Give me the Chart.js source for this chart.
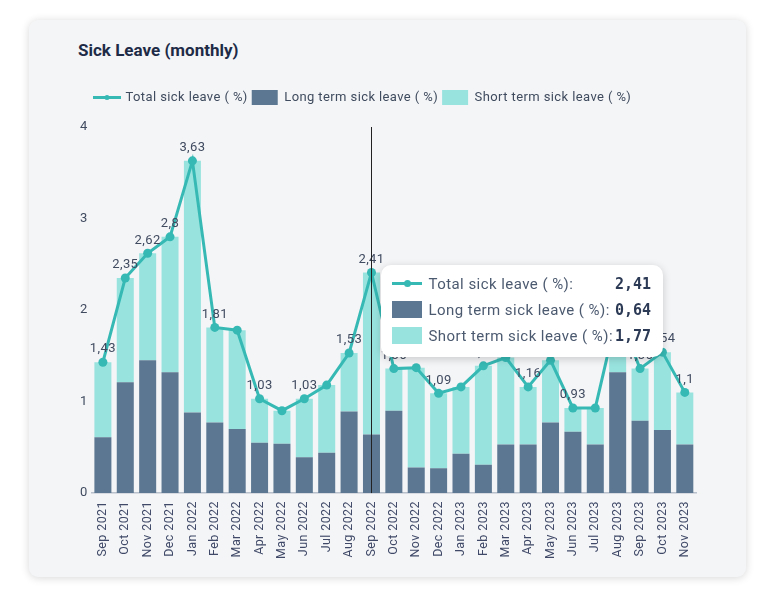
<!DOCTYPE html>
<html>
<head>
<meta charset="utf-8">
<script src="https://cdn.jsdelivr.net/npm/chart.js@4.4.1/dist/chart.umd.min.js"></script>
<style>
  html, body { margin: 0; padding: 0; background: #fff; }
  body { width: 775px; height: 614px; position: relative; overflow: hidden; font-family: Roboto, sans-serif; }
  .card { position: absolute; left: 29px; top: 20px; width: 717px; height: 557px; background: #f4f5f7;
          border-radius: 9px; box-shadow: 0 1px 9px rgba(0,0,0,0.16); }
  .title { position: absolute; left: 49px; top: 19px; font: bold 17px Roboto; line-height: 22px; color: #1e2b47; }
  .wrap { position: absolute; left: 31px; top: 60px; width: 650px; height: 493px; }
  #tip { position: absolute; background: #fff; border-radius: 10px; box-shadow: 0 2px 9px rgba(0,0,0,0.18);
         padding: 6px 12px 8px 11px; display: none; white-space: nowrap; }
  #tip .row { display: flex; align-items: center; height: 26px; }
  #tip .sw { width: 30px; height: 17px; margin-right: 6px; position: relative; }
  #tip .lbl { font: 15px Roboto; letter-spacing: 0.45px; color: #4c5a70; flex: 1; padding-right: 2px; }
  #tip .val { font: bold 15px "DejaVu Sans Mono", monospace; color: #2c3a55; text-align: right; }
</style>
</head>
<body>
<div class="card">
  <div class="title">Sick Leave (monthly)</div>
  <div class="wrap">
    <canvas id="chart"></canvas>
    <div id="tip"></div>
  </div>
</div>
<script>
const months = ['Sep 2021', 'Oct 2021', 'Nov 2021', 'Dec 2021', 'Jan 2022', 'Feb 2022', 'Mar 2022', 'Apr 2022',
  'May 2022', 'Jun 2022', 'Jul 2022', 'Aug 2022', 'Sep 2022', 'Oct 2022', 'Nov 2022', 'Dec 2022', 'Jan 2023',
  'Feb 2023', 'Mar 2023', 'Apr 2023', 'May 2023', 'Jun 2023', 'Jul 2023', 'Aug 2023', 'Sep 2023', 'Oct 2023', 'Nov 2023'];
const totalSick = [1.43, 2.35, 2.62, 2.8, 3.63, 1.81, 1.78, 1.03, 0.9, 1.03, 1.18, 1.53, 2.41, 1.36, 1.37, 1.09, 1.16,
  1.39, 1.48, 1.16, 1.45, 0.93, 0.93, 1.98, 1.36, 1.54, 1.1];
const longTerm = [0.61, 1.21, 1.45, 1.32, 0.88, 0.77, 0.70, 0.55, 0.54, 0.39, 0.44, 0.89, 0.64, 0.90, 0.28, 0.27, 0.43,
  0.31, 0.53, 0.53, 0.77, 0.67, 0.53, 1.32, 0.79, 0.69, 0.53];
const shortTerm = [0.82, 1.14, 1.17, 1.48, 2.75, 1.04, 1.08, 0.48, 0.36, 0.64, 0.74, 0.64, 1.77, 0.46, 1.09, 0.82, 0.73,
  1.08, 0.95, 0.63, 0.68, 0.26, 0.40, 0.66, 0.57, 0.85, 0.57];
// which points get a value label (the report hides the crowded ones)
const showLabel = [1, 1, 1, 1, 1, 1, 0, 1, 0, 1, 0, 1, 1, 1, 0, 1, 0, 1, 0, 1, 0, 1, 0, 1, 1, 1, 1];
const hoverIndex = 12;

const teal = '#36b9b4';
const slate = '#5b7791';
const mint = '#99e3de';
const spacing = '0.4px';

const fmt = v => String(v).replace('.', ',');

// small labels above the line points
const valueLabels = {
  id: 'valueLabels',
  afterDatasetsDraw(chart) {
    const ctx = chart.ctx;
    const meta = chart.getDatasetMeta(0);
    ctx.save();
    ctx.font = '13px Roboto';
    ctx.letterSpacing = spacing;
    ctx.fillStyle = '#404b60';
    ctx.textAlign = 'center';
    ctx.textBaseline = 'middle';
    meta.data.forEach((pt, i) => {
      if (showLabel[i]) ctx.fillText(fmt(totalSick[i]), pt.x, pt.y - 13);
    });
    ctx.restore();
  }
};

// letter spacing, legend offsets, legend marker for the line series, hover line
const extras = {
  id: 'extras',
  beforeInit(chart) {
    const fit = chart.legend.fit;
    chart.legend.fit = function () {
      fit.bind(this)();
      this.height += 12;
    };
  },
  beforeUpdate(chart) { chart.ctx.letterSpacing = spacing; },
  beforeDraw(chart) { chart.ctx.letterSpacing = spacing; },
  afterLayout(chart) { chart.legend.left += 13; },
  afterDraw(chart) {
    const ctx = chart.ctx;
    const hb = chart.legend.legendHitBoxes[0];
    if (hb) {
      const cy = hb.top + hb.height / 2;
      ctx.save();
      ctx.strokeStyle = teal;
      ctx.lineWidth = 3;
      ctx.beginPath();
      ctx.moveTo(hb.left, cy);
      ctx.lineTo(hb.left + 28, cy);
      ctx.stroke();
      ctx.fillStyle = teal;
      ctx.beginPath();
      ctx.arc(hb.left + 14, cy, 2.5, 0, Math.PI * 2);
      ctx.fill();
      ctx.restore();
    }
    const x = chart.getDatasetMeta(0).data[hoverIndex].x;
    const area = chart.chartArea;
    ctx.save();
    ctx.strokeStyle = '#222';
    ctx.lineWidth = 1;
    ctx.beginPath();
    ctx.moveTo(Math.round(x) + 0.5, area.top);
    ctx.lineTo(Math.round(x) + 0.5, area.bottom);
    ctx.stroke();
    ctx.restore();
  }
};

function externalTip(context) {
  const tip = document.getElementById('tip');
  const tt = context.tooltip;
  if (!tt || !tt.dataPoints || !tt.dataPoints.length) { tip.style.display = 'none'; return; }
  let html = '';
  tt.dataPoints.forEach(dp => {
    let sw;
    if (dp.datasetIndex === 0) {
      sw = '<div class="sw"><div style="position:absolute;left:0;right:0;top:7px;height:3px;background:' + teal + '"></div>' +
           '<div style="position:absolute;left:12px;top:5px;width:7px;height:7px;border-radius:50%;background:' + teal + '"></div></div>';
    } else {
      sw = '<div class="sw" style="background:' + dp.dataset.backgroundColor + '"></div>';
    }
    html += '<div class="row">' + sw + '<div class="lbl">' + dp.dataset.label + ':</div><div class="val">' +
      fmt(dp.raw.toFixed(2)) + '</div></div>';
  });
  tip.innerHTML = html;
  const pt = context.chart.getDatasetMeta(0).data[hoverIndex];
  tip.style.left = (pt.x + 10) + 'px';
  tip.style.top = (pt.y - 8) + 'px';
  tip.style.display = 'block';
}

const chart = new Chart(document.getElementById('chart'), {
  data: {
    labels: months,
    datasets: [
      {
        type: 'line',
        label: 'Total sick leave ( %)',
        data: totalSick,
        borderColor: teal,
        backgroundColor: teal,
        borderWidth: 3,
        pointRadius: 4.5,
        pointBackgroundColor: teal,
        pointBorderWidth: 0,
        tension: 0,
        order: 0,
        stack: 'total'
      },
      {
        type: 'bar',
        label: 'Long term sick leave ( %)',
        data: longTerm,
        backgroundColor: slate,
        order: 1,
        stack: 'bars'
      },
      {
        type: 'bar',
        label: 'Short term sick leave ( %)',
        data: shortTerm,
        backgroundColor: mint,
        order: 2,
        stack: 'bars'
      }
    ]
  },
  options: {
    responsive: true,
    maintainAspectRatio: false,
    animation: false,
    events: [],
    layout: { padding: { left: 16, right: 14, top: 6, bottom: 6 } },
    datasets: {
      bar: { categoryPercentage: 0.76, barPercentage: 1 }
    },
    scales: {
      x: {
        stacked: true,
        grid: { display: false, drawTicks: false },
        border: { display: true, color: '#b9c1cc', width: 1.5 },
        ticks: {
          autoSkip: false,
          minRotation: 90,
          maxRotation: 90,
          padding: 8,
          color: '#404a68',
          font: { family: 'Roboto', size: 12.5 }
        }
      },
      y: {
        stacked: true,
        min: 0,
        max: 4,
        grid: { display: false, drawTicks: false },
        border: { display: false },
        ticks: {
          stepSize: 1,
          padding: 4,
          color: '#404b60',
          font: { family: 'Roboto', size: 13 }
        }
      }
    },
    plugins: {
      legend: {
        position: 'top',
        align: 'start',
        labels: {
          boxWidth: 26,
          boxHeight: 15,
          padding: 4,
          color: '#3f4b5e',
          font: { family: 'Roboto', size: 13 },
          generateLabels(chart) {
            const items = Chart.defaults.plugins.legend.labels.generateLabels(chart);
            items.forEach(it => {
              it.lineWidth = 0;
              if (it.datasetIndex === 0) {
                it.fillStyle = 'rgba(0,0,0,0)';
                it.strokeStyle = 'rgba(0,0,0,0)';
              }
            });
            return items;
          }
        }
      },
      tooltip: {
        enabled: false,
        mode: 'index',
        external: externalTip
      }
    }
  },
  plugins: [valueLabels, extras]
});

const act = [0, 1, 2].map(d => ({ datasetIndex: d, index: hoverIndex }));
const p0 = chart.getDatasetMeta(0).data[hoverIndex];
chart.tooltip.setActiveElements(act, { x: p0.x, y: p0.y });
chart.update();
</script>
</body>
</html>
